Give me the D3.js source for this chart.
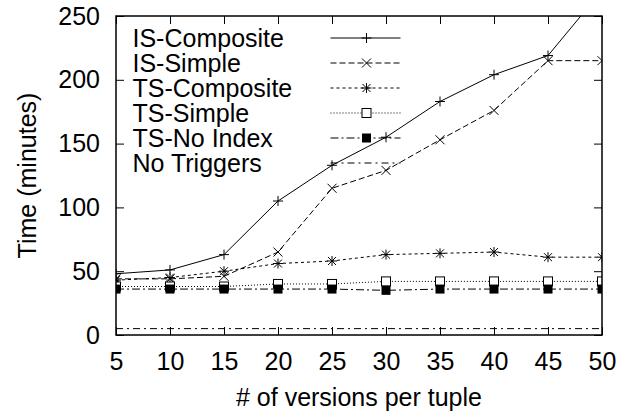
<!DOCTYPE html>
<html>
<head>
<meta charset="utf-8">
<script src="https://cdn.jsdelivr.net/npm/d3@7"></script>
<style>
  body { margin: 0; background: #fff; }
  text { font-family: "Liberation Sans", Arial, Helvetica, sans-serif; fill: #000; }
</style>
</head>
<body>
<div id="chart"></div>
<script>
// Data
var versions = [5, 10, 15, 20, 25, 30, 35, 40, 45, 50];
var isComposite = [48, 51, 63, 105, 133, 155, 183, 204, 219, 270];
var isSimple    = [44, 44, 46, 65, 115, 129, 153, 176, 215, 215];
var tsComposite = [43, 45, 50, 56, 58, 63, 64, 65, 61, 61];
var tsSimple    = [38, 38, 38, 40, 40, 42, 42, 42, 42, 42];
var tsNoIndex   = [36, 36, 36, 36, 36, 35, 36, 36, 36, 36];
var noTriggers  = [5, 5, 5, 5, 5, 5, 5, 5, 5, 5];

var seriesNames = ["IS-Composite", "IS-Simple", "TS-Composite", "TS-Simple", "TS-No Index", "No Triggers"];
var xTicks = [5, 10, 15, 20, 25, 30, 35, 40, 45, 50];
var yTicks = [0, 50, 100, 150, 200, 250];

// Size and margins
var margin = {top: 16, right: 27, bottom: 81, left: 116},
    width = 629 - margin.left - margin.right,
    height = 416 - margin.top - margin.bottom;

var fontSize = "25px";

var svg = d3.select("#chart")
  .append("svg")
    .attr("width", 629)
    .attr("height", 416)
;
var g = svg.append("g")
  .attr("transform", "translate(" + margin.left + "," + margin.top + ")");

var x = d3.scaleLinear().domain([5, 50]).range([0, width]);
var y = d3.scaleLinear().domain([0, 250]).range([height, 0]);

// clip lines at the plot border, like gnuplot does
g.append("clipPath").attr("id", "clip")
  .append("rect").attr("width", width).attr("height", height);

// Styles for each series: dash pattern and point type
var styles = [
  {dash: null,      mark: "plus"},
  {dash: "6,3",     mark: "cross"},
  {dash: "3,3",     mark: "star"},
  {dash: "1,2",     mark: "box"},
  {dash: "8,3,2,3", mark: "fbox"},
  {dash: "7,4,2,4", mark: null}
];
var allData = [isComposite, isSimple, tsComposite, tsSimple, tsNoIndex, noTriggers];

function drawMark(sel, type) {
  if (type == "plus") {
    sel.append("path").attr("d", "M-5,0H5M0,-5V5")
      .attr("stroke", "#000").attr("stroke-width", 1);
  } else if (type == "cross") {
    sel.append("path").attr("d", "M-4.5,-4.5L4.5,4.5M-4.5,4.5L4.5,-4.5")
      .attr("stroke", "#000").attr("stroke-width", 1);
  } else if (type == "star") {
    sel.append("path").attr("d", "M-5,0H5M0,-5V5M-4,-4L4,4M-4,4L4,-4")
      .attr("stroke", "#000").attr("stroke-width", 1);
  } else if (type == "box") {
    sel.append("rect").attr("x", -4.5).attr("y", -4.5).attr("width", 9).attr("height", 9)
      .attr("fill", "#fff").attr("stroke", "#000").attr("stroke-width", 1);
  } else if (type == "fbox") {
    sel.append("rect").attr("x", -4.5).attr("y", -4.5).attr("width", 9).attr("height", 9)
      .attr("fill", "#000");
  }
}

// Axis ticks (inward, mirrored on all sides)
var tickLen = 8;
g.append("g")
  .attr("transform", "translate(0," + height + ")")
  .call(d3.axisBottom(x).tickValues(xTicks).tickSize(-tickLen).tickPadding(17).tickFormat(d3.format("d")))
  .call(function(a) { a.select(".domain").remove(); a.selectAll("text").attr("font-size", fontSize).attr("dy", "0.72em"); })
;
g.append("g")
  .call(d3.axisTop(x).tickValues(xTicks).tickSize(-tickLen).tickFormat(""))
  .call(function(a) { a.select(".domain").remove(); })
;
g.append("g")
  .call(d3.axisLeft(y).tickValues(yTicks).tickSize(-tickLen).tickPadding(16))
  .call(function(a) { a.select(".domain").remove(); a.selectAll("text").attr("font-size", fontSize); })
;
g.append("g")
  .attr("transform", "translate(" + width + ",0)")
  .call(d3.axisRight(y).tickValues(yTicks).tickSize(-tickLen).tickFormat(""))
  .call(function(a) { a.select(".domain").remove(); })
;
g.selectAll(".tick line").attr("stroke", "#000").attr("stroke-width", 1);
g.selectAll(".tick text").attr("fill", "#000").attr("font-family", "Liberation Sans, Arial, sans-serif");

// Lines
var line = d3.line()
  .x(function(d, i) { return x(versions[i]); })
  .y(function(d) { return y(d); })
;
var plot = g.append("g").attr("clip-path", "url(#clip)");
allData.forEach(function(vals, k) {
  plot.append("path")
    .datum(vals)
    .attr("d", line)
    .attr("fill", "none")
    .attr("stroke", "#000")
    .attr("stroke-width", 1)
    .attr("stroke-dasharray", styles[k].dash)
  ;
  if (styles[k].mark) {
    vals.forEach(function(v, i) {
      if (v > 250) return; // out of range points are not drawn
      var m = plot.append("g").attr("transform", "translate(" + x(versions[i]) + "," + y(v) + ")");
      drawMark(m, styles[k].mark);
    });
  }
});

// Border
g.append("rect")
  .attr("width", width).attr("height", height)
  .attr("fill", "none").attr("stroke", "#000").attr("stroke-width", 1.5)
;

// Legend (gnuplot key, top left inside)
var key = g.append("g").attr("transform", "translate(16.5,22)");
seriesNames.forEach(function(name, k) {
  var row = key.append("g").attr("transform", "translate(0," + (k * 25) + ")");
  row.append("text").attr("x", 0).attr("y", 8.5).attr("font-size", fontSize).text(name);
  row.append("line")
    .attr("x1", 198).attr("x2", 268).attr("y1", 0).attr("y2", 0)
    .attr("stroke", "#000").attr("stroke-width", 1)
    .attr("stroke-dasharray", styles[k].dash)
  ;
  if (styles[k].mark) {
    drawMark(row.append("g").attr("transform", "translate(234,0)"), styles[k].mark);
  }
});

// Axis titles
svg.append("text")
  .attr("x", margin.left + width / 2).attr("y", 406)
  .attr("text-anchor", "middle").attr("font-size", fontSize)
  .text("# of versions per tuple")
;
svg.append("text")
  .attr("transform", "translate(36," + (margin.top + height / 2) + ") rotate(-90)")
  .attr("text-anchor", "middle").attr("font-size", fontSize)
  .text("Time (minutes)")
;
</script>
</body>
</html>
